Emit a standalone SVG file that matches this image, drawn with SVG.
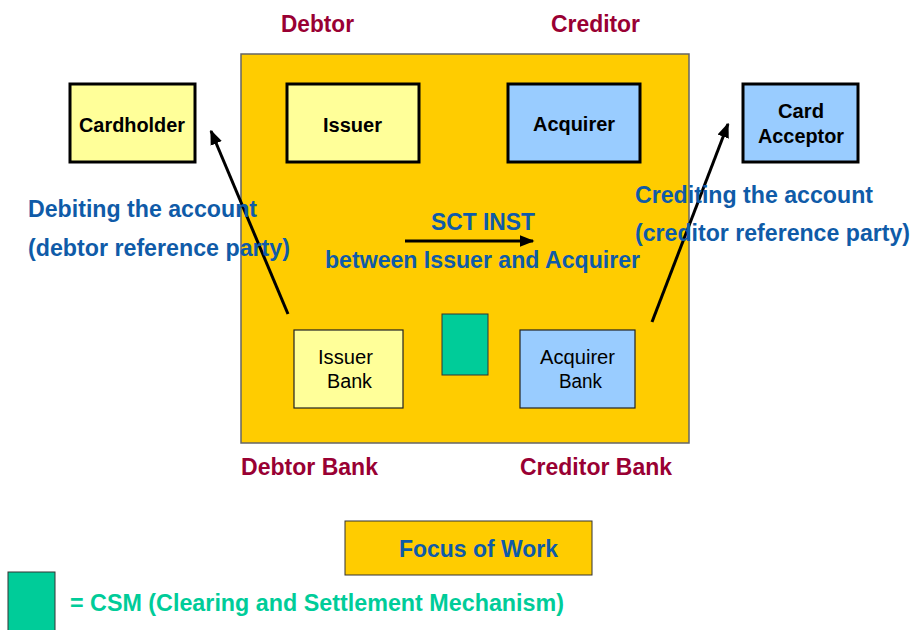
<svg xmlns="http://www.w3.org/2000/svg" width="912" height="630" viewBox="0 0 912 630">
<defs>
<marker id="ah" viewBox="0 0 10 10" refX="9" refY="5" markerWidth="5" markerHeight="5" orient="auto" markerUnits="strokeWidth">
<path d="M0,1 L10,5 L0,9 z" fill="#000"/>
</marker>
<style>
text{font-family:"Liberation Sans",Arial,sans-serif}
.hdr{font-size:23px;font-weight:bold;fill:#990033}
.blue{font-size:23px;font-weight:bold;fill:#0F5BA8}
.nl{font-size:20px;font-weight:bold;fill:#000}
.bl{font-size:20px;fill:#000}
.thick{stroke:#000;stroke-width:3}
.thin{stroke:#222;stroke-width:1.2}
.yel{fill:#FFFF99}
.bluef{fill:#99CCFF}
.green{fill:#00CC99;stroke:#333;stroke-width:1}
.conn{stroke:#000;stroke-width:3;fill:none}
</style>
</defs>
<rect width="912" height="630" fill="#fff"/>
<g id="focus-area">
<rect x="241" y="54" width="448" height="389" fill="#FFCC00" stroke="#666" stroke-width="1.5"/>
</g>
<text class="hdr" x="281" y="32" textLength="73" lengthAdjust="spacingAndGlyphs">Debtor</text>
<text class="hdr" x="551" y="32" textLength="89" lengthAdjust="spacingAndGlyphs">Creditor</text>
<g id="cardholder">
<rect x="70" y="84" width="125" height="78" class="yel thick"/>
<text class="nl" x="79" y="132" textLength="106" lengthAdjust="spacingAndGlyphs">Cardholder</text>
</g>
<g id="issuer">
<rect x="287" y="84" width="132" height="78" class="yel thick"/>
<text class="nl" x="323" y="132" textLength="59" lengthAdjust="spacingAndGlyphs">Issuer</text>
</g>
<g id="acquirer">
<rect x="508" y="84" width="132" height="78" class="bluef thick"/>
<text class="nl" x="533" y="131" textLength="82" lengthAdjust="spacingAndGlyphs">Acquirer</text>
</g>
<g id="card-acceptor">
<rect x="743" y="84" width="115" height="78" class="bluef thick"/>
<text class="nl" x="778" y="118" textLength="46" lengthAdjust="spacingAndGlyphs">Card</text>
<text class="nl" x="758" y="143" textLength="86" lengthAdjust="spacingAndGlyphs">Acceptor</text>
</g>
<g id="issuer-bank">
<rect x="294" y="330" width="109" height="78" class="yel thin"/>
<text class="bl" x="318" y="364" textLength="55" lengthAdjust="spacingAndGlyphs">Issuer</text>
<text class="bl" x="327" y="388" textLength="45" lengthAdjust="spacingAndGlyphs">Bank</text>
</g>
<g id="csm">
<rect x="442" y="314" width="46" height="61" class="green"/>
</g>
<g id="acquirer-bank">
<rect x="520" y="330" width="115" height="78" class="bluef thin"/>
<text class="bl" x="540" y="364" textLength="75" lengthAdjust="spacingAndGlyphs">Acquirer</text>
<text class="bl" x="559" y="388" textLength="43" lengthAdjust="spacingAndGlyphs">Bank</text>
</g>
<g id="connectors">
<line x1="288" y1="314" x2="211" y2="131" class="conn" marker-end="url(#ah)"/>
<line x1="652" y1="322" x2="728" y2="124" class="conn" marker-end="url(#ah)"/>
<line x1="405" y1="241" x2="533" y2="241" class="conn" marker-end="url(#ah)"/>
</g>
<text class="blue" x="28" y="217" textLength="229" lengthAdjust="spacingAndGlyphs">Debiting the account</text>
<text class="blue" x="28" y="256" textLength="262" lengthAdjust="spacingAndGlyphs">(debtor reference party)</text>
<text class="blue" x="431" y="230" textLength="104" lengthAdjust="spacingAndGlyphs">SCT INST</text>
<text class="blue" x="325" y="268" textLength="315" lengthAdjust="spacingAndGlyphs">between Issuer and Acquirer</text>
<text class="blue" x="635" y="203" textLength="238" lengthAdjust="spacingAndGlyphs">Crediting the account</text>
<text class="blue" x="635" y="241" textLength="275" lengthAdjust="spacingAndGlyphs">(creditor reference party)</text>
<text class="hdr" x="241" y="475" textLength="137" lengthAdjust="spacingAndGlyphs">Debtor Bank</text>
<text class="hdr" x="520" y="475" textLength="152" lengthAdjust="spacingAndGlyphs">Creditor Bank</text>
<g id="legend-focus">
<rect x="345" y="521" width="247" height="54" fill="#FFCC00" stroke="#333" stroke-width="1"/>
<text class="blue" x="399" y="557" textLength="159" lengthAdjust="spacingAndGlyphs">Focus of Work</text>
</g>
<g id="legend-csm">
<rect x="8" y="572" width="47" height="62" class="green"/>
<text x="70" y="611" textLength="494" lengthAdjust="spacingAndGlyphs" style="font-size:23px;font-weight:bold;fill:#00CC99">= CSM (Clearing and Settlement Mechanism)</text>
</g>
</svg>
